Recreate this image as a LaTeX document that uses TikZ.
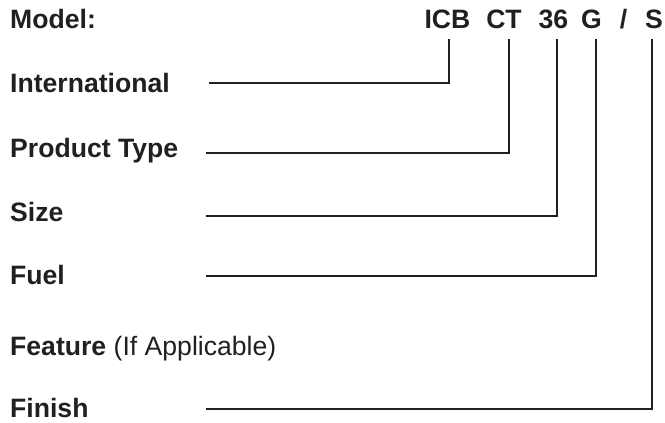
\documentclass[tikz,border=0pt]{standalone}
\usepackage{fontspec}
\setmainfont{Liberation Sans}
\definecolor{ink}{HTML}{231F20}
\begin{document}
\begin{tikzpicture}[x=1pt,y=-1pt,
  lbl/.style={anchor=base west,inner sep=0pt,font=\fontsize{26.6}{30}\selectfont\bfseries,text=ink},
  code/.style={anchor=base,inner sep=0pt,font=\fontsize{26.6}{30}\selectfont\bfseries,text=ink},
  conn/.style={draw=ink,line width=2.7pt,line cap=rect}]
\useasboundingbox (0,0) rectangle (665,423);
% labels
\node[lbl] (model) at (10,28) {Model:};
\node[lbl] (intl) at (10,92) {International};
\node[lbl] (ptype) at (10,157) {Product Type};
\node[lbl] (size) at (10,221) {Size};
\node[lbl] (fuel) at (10,284) {Fuel};
\node[lbl] (feat) at (10,355) {Feature \mdseries(If Applicable)};
\node[lbl] (fin) at (10,417) {Finish};
% code letters
\node[code] (icb) at (447.5,28) {ICB};
\node[code] (ct) at (504,28) {CT};
\node[code] (n36) at (553.5,28) {36};
\node[code] (g) at (591.5,28) {G};
\node[code] (sl) at (623.5,28) {/};
\node[code] (s) at (654,28) {S};
% connector ends
\coordinate (t1) at (449,40);
\coordinate (t2) at (509,40);
\coordinate (t3) at (557,40);
\coordinate (t4) at (596,40);
\coordinate (t5) at (652,40);
\coordinate (e1) at (210,83);
\coordinate (e2) at (207,153);
\coordinate (e3) at (207,216);
\coordinate (e4) at (207,276);
\coordinate (e5) at (207,409);
\draw[conn] (t1) |- (e1);
\draw[conn] (t2) |- (e2);
\draw[conn] (t3) |- (e3);
\draw[conn] (t4) |- (e4);
\draw[conn] (t5) |- (e5);
\end{tikzpicture}
\end{document}
